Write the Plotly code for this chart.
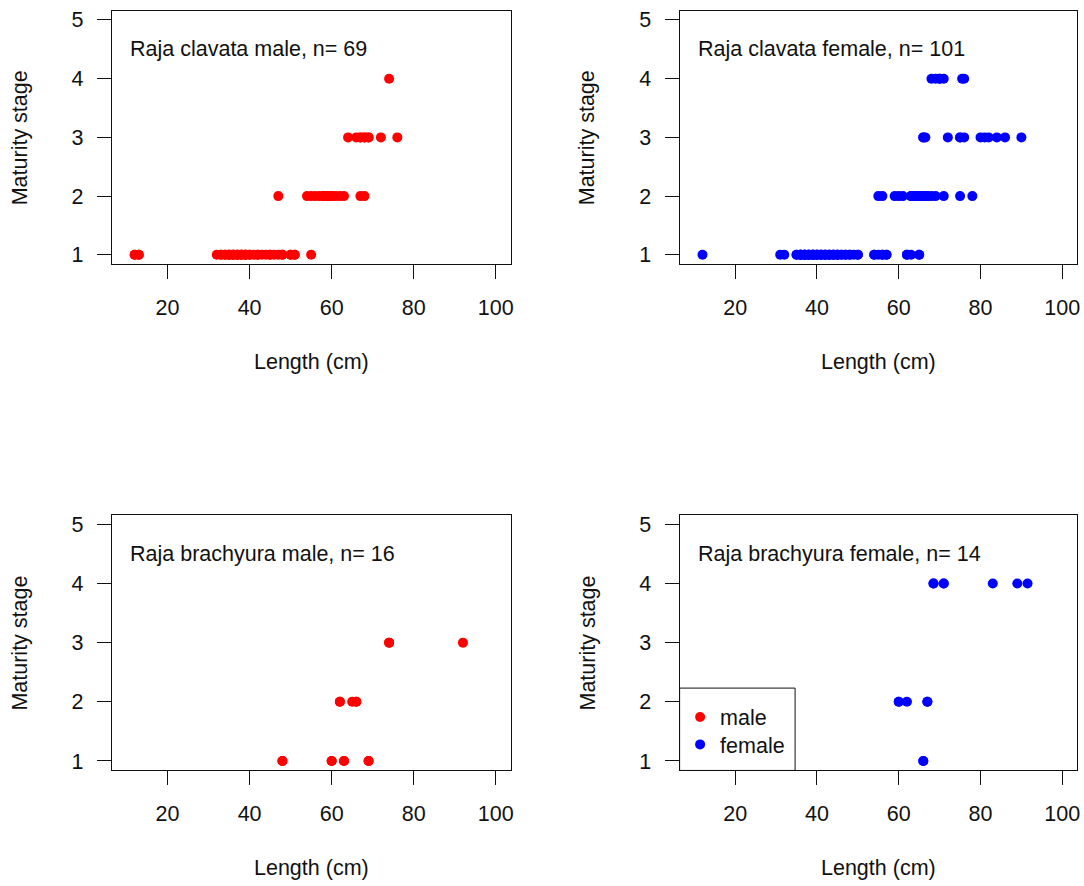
import plotly.graph_objects as go

# Length (cm) of each fish, grouped by maturity stage
clavata_male_s1 = [12, 12, 13, 13, 32, 33, 33, 34, 34, 35, 35, 35, 36, 36, 36, 37, 37, 37,
                   38, 38, 38, 39, 39, 39, 40, 40, 41, 42, 42, 43, 44, 45, 45, 46, 47, 48,
                   48, 50, 50, 51, 51, 55]
clavata_male_s2 = [47, 54, 55, 56, 57, 58, 58, 59, 59, 60, 60, 61, 62, 63, 67, 68]
clavata_male_s3 = [64, 66, 67, 67, 68, 68, 69, 69, 72, 76]
clavata_male_s4 = [74]

clavata_female_s1 = [12, 31, 32, 35, 35, 36, 36, 36, 36, 37, 37, 37, 37, 38, 38, 38, 38,
                     39, 39, 39, 39, 40, 40, 40, 40, 41, 41, 41, 42, 42, 42, 43, 43, 43,
                     44, 44, 44, 45, 45, 45, 46, 46, 47, 47, 48, 48, 49, 50, 50, 54, 54,
                     55, 56, 56, 57, 57, 62, 62, 63, 65, 65]
clavata_female_s2 = [55, 56, 59, 60, 61, 63, 63, 64, 64, 65, 65, 66, 66, 67, 67, 68, 69,
                     71, 75, 78]
clavata_female_s3 = [66, 66, 66.5, 72, 75, 75, 76, 80, 81, 82, 84, 86, 90]
clavata_female_s4 = [68, 69, 70, 70, 71, 75.5, 76]

brachyura_male_s1 = [48, 48, 60, 60, 63, 63, 69, 69]
brachyura_male_s2 = [62, 62, 65, 66, 66]
brachyura_male_s3 = [74, 74, 92]

brachyura_female_s1 = [66, 66]
brachyura_female_s2 = [60, 60, 62, 67, 67]
brachyura_female_s4 = [68.5, 68.5, 71, 71, 83, 89, 91.5]

x_ticks = [20, 40, 60, 80, 100]
y_ticks = [1, 2, 3, 4, 5]

RED = "#FF0000"
BLUE = "#0000FF"
INK = "#111111"
FONT = "Liberation Sans, Arial, sans-serif"
FS = 21.5


def stack(groups):
    xs, ys = [], []
    for stage, vals in groups:
        xs += vals
        ys += [stage] * len(vals)
    return xs, ys


panels = [
    ("Raja clavata male", RED, "male",
     stack([(1, clavata_male_s1), (2, clavata_male_s2), (3, clavata_male_s3), (4, clavata_male_s4)])),
    ("Raja clavata female", BLUE, "female",
     stack([(1, clavata_female_s1), (2, clavata_female_s2), (3, clavata_female_s3), (4, clavata_female_s4)])),
    ("Raja brachyura male", RED, "male",
     stack([(1, brachyura_male_s1), (2, brachyura_male_s2), (3, brachyura_male_s3)])),
    ("Raja brachyura female", BLUE, "female",
     stack([(1, brachyura_female_s1), (2, brachyura_female_s2), (4, brachyura_female_s4)])),
]

W, H = 1084, 886
# plot boxes in pixels: (left, right, top, bottom)
boxes = [(112, 512, 8.6, 263.7), (681.5, 1080, 8.6, 263.7),
         (112, 512, 515.8, 772.8), (681.5, 1080, 515.8, 772.8)]

# one legend per sex so each key row can be placed on its own
legend_ids = {"male": "legend", "female": "legend2"}

fig = go.Figure()
layout = dict(width=W, height=H, margin=dict(l=0, r=0, t=0, b=0),
              plot_bgcolor="white", paper_bgcolor="white",
              font=dict(family=FONT, size=FS, color=INK))
annotations = []
legend_seen = set()

for i, ((title, color, sex, (xs, ys)), (l, r, t, b)) in enumerate(zip(panels, boxes)):
    k = "" if i == 0 else str(i + 1)
    show = sex not in legend_seen
    legend_seen.add(sex)
    fig.add_trace(go.Scatter(
        x=xs, y=ys, mode="markers", name=sex, showlegend=show, legend=legend_ids[sex],
        marker=dict(color=color, size=10, symbol="circle", line=dict(width=0)),
        xaxis="x" + k, yaxis="y" + k))
    axis_common = dict(showline=True, mirror=True, linecolor=INK, linewidth=1,
                       ticks="outside", ticklen=14, tickwidth=1, tickcolor=INK,
                       showgrid=False, zeroline=False,
                       tickfont=dict(family=FONT, size=FS, color=INK))
    layout["xaxis" + k] = dict(axis_common, domain=[l / W, r / W], range=[6.4, 103.6],
                               tickvals=x_ticks, anchor="y" + k, ticklabelstandoff=10)
    layout["yaxis" + k] = dict(axis_common, domain=[1 - b / H, 1 - t / H], range=[0.84, 5.16],
                               tickvals=y_ticks, anchor="x" + k, ticklabelstandoff=9)
    annotations.append(dict(text=f"{title}, n= {len(xs)}", x=10.4, y=4.5,
                            xref="x" + k, yref="y" + k, xanchor="left", yanchor="middle",
                            showarrow=False, font=dict(family=FONT, size=FS, color=INK)))
    annotations.append(dict(text="Length (cm)", x=(l + r) / 2 / W, y=1 - (b + 98.5) / H,
                            xref="paper", yref="paper", xanchor="center", yanchor="middle",
                            showarrow=False, font=dict(family=FONT, size=FS, color=INK)))
    annotations.append(dict(text="Maturity stage", x=(l - 92) / W, y=1 - (t + b) / 2 / H,
                            xref="paper", yref="paper", xanchor="center", yanchor="middle",
                            textangle=-90, showarrow=False,
                            font=dict(family=FONT, size=FS, color=INK)))

layout["annotations"] = annotations
# legend frame in the lower-left corner of the last panel
layout["shapes"] = [dict(type="rect", xref="paper", yref="paper",
                         x0=681.5 / W, x1=797.3 / W, y0=1 - 772.8 / H, y1=1 - 690 / H,
                         line=dict(color=INK, width=1), fillcolor="rgba(0,0,0,0)")]
legend_style = dict(xanchor="left", yanchor="top", bgcolor="rgba(0,0,0,0)", borderwidth=0,
                    font=dict(family=FONT, size=FS, color=INK), itemsizing="trace")
layout["legend"] = dict(legend_style, x=682 / W, y=1 - 698.5 / H)
layout["legend2"] = dict(legend_style, x=682 / W, y=1 - 726 / H)
fig.update_layout(**layout)
fig.write_html("out.html")
